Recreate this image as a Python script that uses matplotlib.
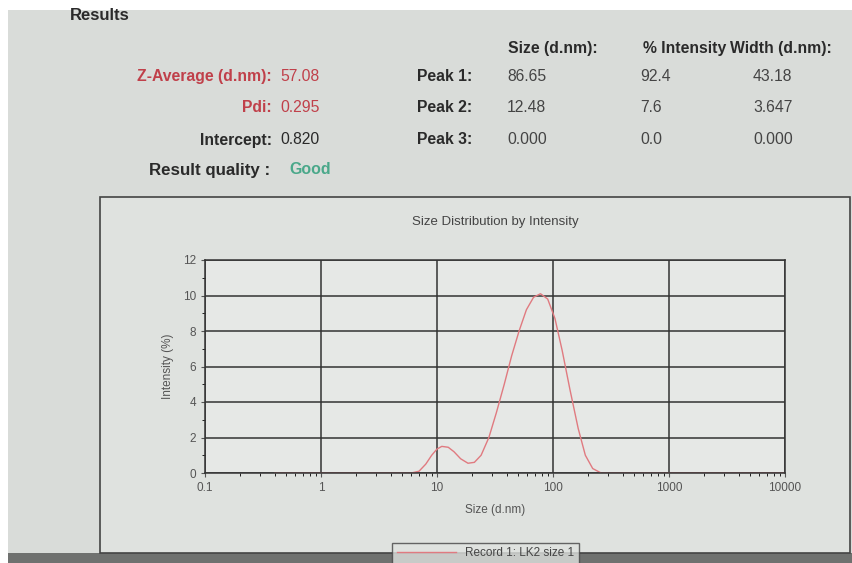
import matplotlib.pyplot as plt
from matplotlib.patches import Rectangle

# size distribution
sizes = [0.4, 1.0, 2.0, 4.0, 6.0, 7.0, 8.0, 9.0, 10.0, 11.0, 12.5, 14.0, 16.0,
         18.5, 21.0, 24.0, 28.0, 32.5, 38.0, 44.0, 51.0, 59.0, 68.0, 78.0,
         90.0, 104.0, 120.0, 140.0, 165.0, 190.0, 220.0, 260.0, 400.0, 1000.0,
         5000.0, 10000.0]
intensity = [0.0, 0.0, 0.0, 0.0, 0.0, 0.1, 0.5, 1.0, 1.35, 1.5, 1.45, 1.2, 0.8,
             0.55, 0.6, 1.0, 2.0, 3.4, 5.0, 6.6, 8.0, 9.2, 9.9, 10.1,
             9.8, 8.7, 6.9, 4.7, 2.5, 1.0, 0.25, 0.0, 0.0, 0.0,
             0.0, 0.0]

summary_labels = ['Z-Average (d.nm):', 'Pdi:', 'Intercept:']
summary_values = ['57.08', '0.295', '0.820']
summary_colors = ['#c0404a', '#c0404a', '#2a2a2a']

peak_names = ['Peak 1:', 'Peak 2:', 'Peak 3:']
peak_size = ['86.65', '12.48', '0.000']
peak_int = ['92.4', '7.6', '0.0']
peak_width = ['43.18', '3.647', '0.000']
col_heads = ['Size (d.nm):', '% Intensity', 'Width (d.nm):']

plt.rcParams['font.family'] = ['Liberation Sans', 'DejaVu Sans']

W, H = 853, 563
fig = plt.figure(figsize=(W / 100, H / 100), dpi=100)
fig.patch.set_facecolor('white')

def px(x, y):
    return x / W, 1 - y / H

# photo background
bg = Rectangle((8 / W, 0), 1 - 8 / W, 1 - 10 / H, transform=fig.transFigure,
               facecolor='#d9dcd9', edgecolor='none', zorder=0)
fig.patches.append(bg)
strip = Rectangle((8 / W, 0), 1 - 8 / W, 10 / H, transform=fig.transFigure,
                  facecolor='#6f716f', edgecolor='none', zorder=0.5)
fig.patches.append(strip)
panel = Rectangle(px(100, 553), 750 / W, 356 / H, transform=fig.transFigure,
                  facecolor='#dfe2df', edgecolor='#444444', lw=1.2, zorder=0.6)
fig.patches.append(panel)

dark = '#2a2a2a'
fs = 11.3
fig.text(*px(70, 16), 'Results', fontsize=12, fontweight='bold', color=dark,
         va='center', ha='left')

for head, x in zip(col_heads, [508, 643, 730]):
    fig.text(*px(x, 48), head, fontsize=fs, fontweight='bold', color=dark,
             va='center')

rows_y = [77, 108, 140]
for i, y in enumerate(rows_y):
    fig.text(*px(272, y), summary_labels[i], fontsize=fs, fontweight='bold',
             color=summary_colors[i], ha='right', va='center')
    fig.text(*px(280, y), summary_values[i], fontsize=fs,
             color=summary_colors[i], ha='left', va='center')
    fig.text(*px(417, y), peak_names[i], fontsize=fs, fontweight='bold',
             color=dark, va='center')
    fig.text(*px(507, y), peak_size[i], fontsize=fs, color='#444444', va='center')
    fig.text(*px(640, y), peak_int[i], fontsize=fs, color='#444444', va='center')
    fig.text(*px(753, y), peak_width[i], fontsize=fs, color='#444444', va='center')

fig.text(*px(270, 170), 'Result quality :', fontsize=12.2, fontweight='bold',
         color=dark, ha='right', va='center')
fig.text(*px(289, 170), 'Good', fontsize=11.5, fontweight='bold',
         color='#4aa88a', va='center')

ax = fig.add_axes([205 / W, 1 - 473 / H, 580 / W, 213 / H])
ax.set_zorder(2)
ax.set_facecolor('#e6e8e6')
ax.semilogx(sizes, intensity, color='#e07a80', lw=1.0,
            label='Record 1: LK2 size 1')
ax.set_xlim(0.1, 10000)
ax.set_ylim(0, 12)
ax.set_yticks([0, 2, 4, 6, 8, 10, 12])
ax.set_yticks([1, 3, 5, 7, 9, 11], minor=True)
ax.set_xticks([0.1, 1, 10, 100, 1000, 10000])
ax.set_xticklabels(['0.1', '1', '10', '100', '1000', '10000'])
ax.grid(True, which='major', color='#333333', lw=1.1)
for s in ax.spines.values():
    s.set_color('#333333')
    s.set_linewidth(1.1)
ax.tick_params(labelsize=8.5, colors='#555555', length=3)
ax.tick_params(which='minor', length=2)
ax.set_title('Size Distribution by Intensity', fontsize=9.5, color='#444444', pad=25)
ax.set_xlabel('Size (d.nm)', fontsize=8.5, color='#555555', labelpad=7)
ax.set_ylabel('Intensity (%)', fontsize=8.5, color='#555555', labelpad=6)

leg = fig.legend(loc='lower left', bbox_to_anchor=(386 / W, -7 / H),
                 fontsize=8.5, frameon=True, fancybox=False, handlelength=5,
                 edgecolor='#444444', facecolor='#dfe2df')
leg.set_zorder(3)
for t in leg.get_texts():
    t.set_color('#444444')

fig.savefig('out.png', dpi=100, facecolor=fig.get_facecolor())
